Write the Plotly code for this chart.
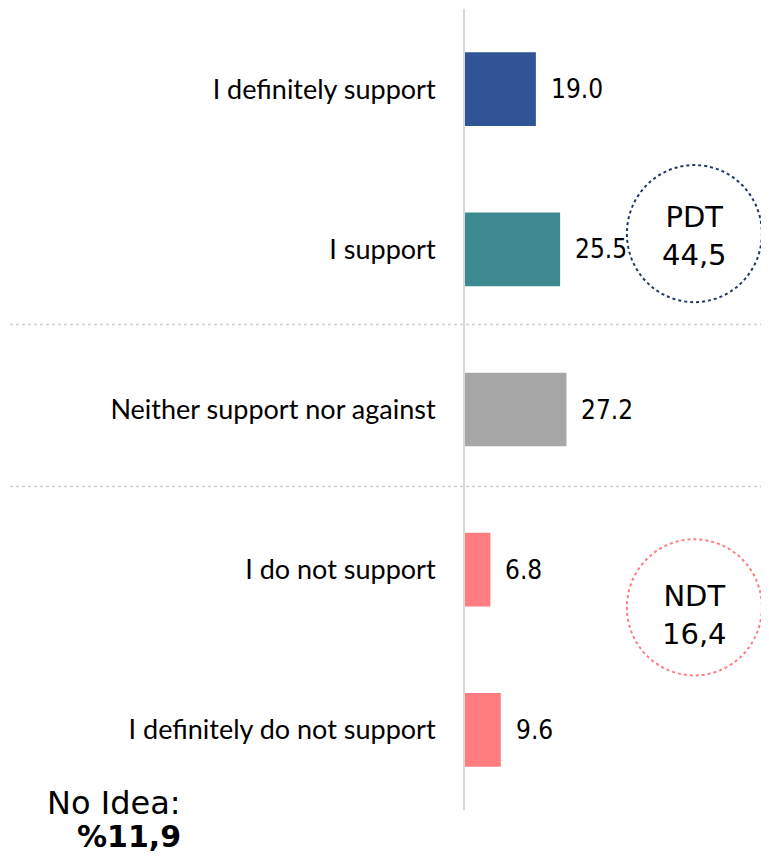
import plotly.graph_objects as go

categories = ["I definitely support", "I support", "Neither support nor against",
              "I do not support", "I definitely do not support"]
values = [19.0, 25.5, 27.2, 6.8, 9.6]
value_labels = ["19.0", "25.5", "27.2", "6.8", "9.6"]
colors = ["#2F5597", "#3C8A8F", "#A6A6A6", "#FF7C80", "#FF7C80"]

pdt_text = ["PDT", "44,5"]
ndt_text = ["NDT", "16,4"]
no_idea_label = "No Idea:"
no_idea_value = "%11,9"

fig = go.Figure()
fig.add_trace(go.Bar(
    x=values, y=categories, orientation="h",
    marker=dict(color=colors, line=dict(width=0)),
    width=0.46, hoverinfo="skip",
))

for c, v, t in zip(categories, values, value_labels):
    fig.add_annotation(x=v, y=c, text=t, showarrow=False, xanchor="left",
                       xshift=13, yanchor="middle",
                       font=dict(family="DejaVu Sans Condensed, DejaVu Sans", size=26, color="#000000"))

# separators
for yv in [1.47, 2.48]:
    fig.add_shape(type="line", xref="paper", yref="y", x0=-1.497, x1=1.0, y0=yv, y1=yv,
                  line=dict(color="#CFCFCF", width=1.5, dash="dot"), layer="below")

# circles
fig.add_shape(type="circle", xref="x", yref="y", x0=43.4, x1=79.6, y0=0.474, y1=1.33,
              line=dict(color="#203864", width=2, dash="dot"))
fig.add_shape(type="circle", xref="x", yref="y", x0=43.4, x1=79.6, y0=2.81, y1=3.66,
              line=dict(color="#FF7C80", width=2, dash="dot"))
fig.add_annotation(x=61.5, y=0.92, text="<br>".join(pdt_text), showarrow=False,
                   font=dict(family="DejaVu Sans", size=29, color="#000000"), align="center")
fig.add_annotation(x=61.5, y=3.28, text="<br>".join(ndt_text), showarrow=False,
                   font=dict(family="DejaVu Sans", size=29, color="#000000"), align="center")

fig.add_annotation(xref="paper", yref="paper", x=-0.928, y=0.0087,
                   text=no_idea_label, showarrow=False,
                   xanchor="right", yanchor="middle", align="right",
                   font=dict(family="DejaVu Sans", size=32, color="#000000"))
fig.add_annotation(xref="paper", yref="paper", x=-0.928, y=-0.0337,
                   text=f"<b>{no_idea_value}</b>", showarrow=False,
                   xanchor="right", yanchor="middle", align="right",
                   font=dict(family="DejaVu Sans", size=30, color="#000000"))

fig.update_layout(
    width=761, height=851,
    margin=dict(l=457, r=0, t=1, b=49, autoexpand=False),
    plot_bgcolor="white", paper_bgcolor="white",
    showlegend=False,
    xaxis=dict(range=[0, 81.5], visible=False, fixedrange=True),
    yaxis=dict(autorange="reversed", categoryorder="array", categoryarray=categories,
               showline=True, linecolor="#D9D9D9", linewidth=2, showgrid=False,
               ticks="", ticklabelstandoff=22, zeroline=False, automargin=False,
               tickfont=dict(family="Lato", size=27, color="#000000")),
)

fig.write_html("out.html")
